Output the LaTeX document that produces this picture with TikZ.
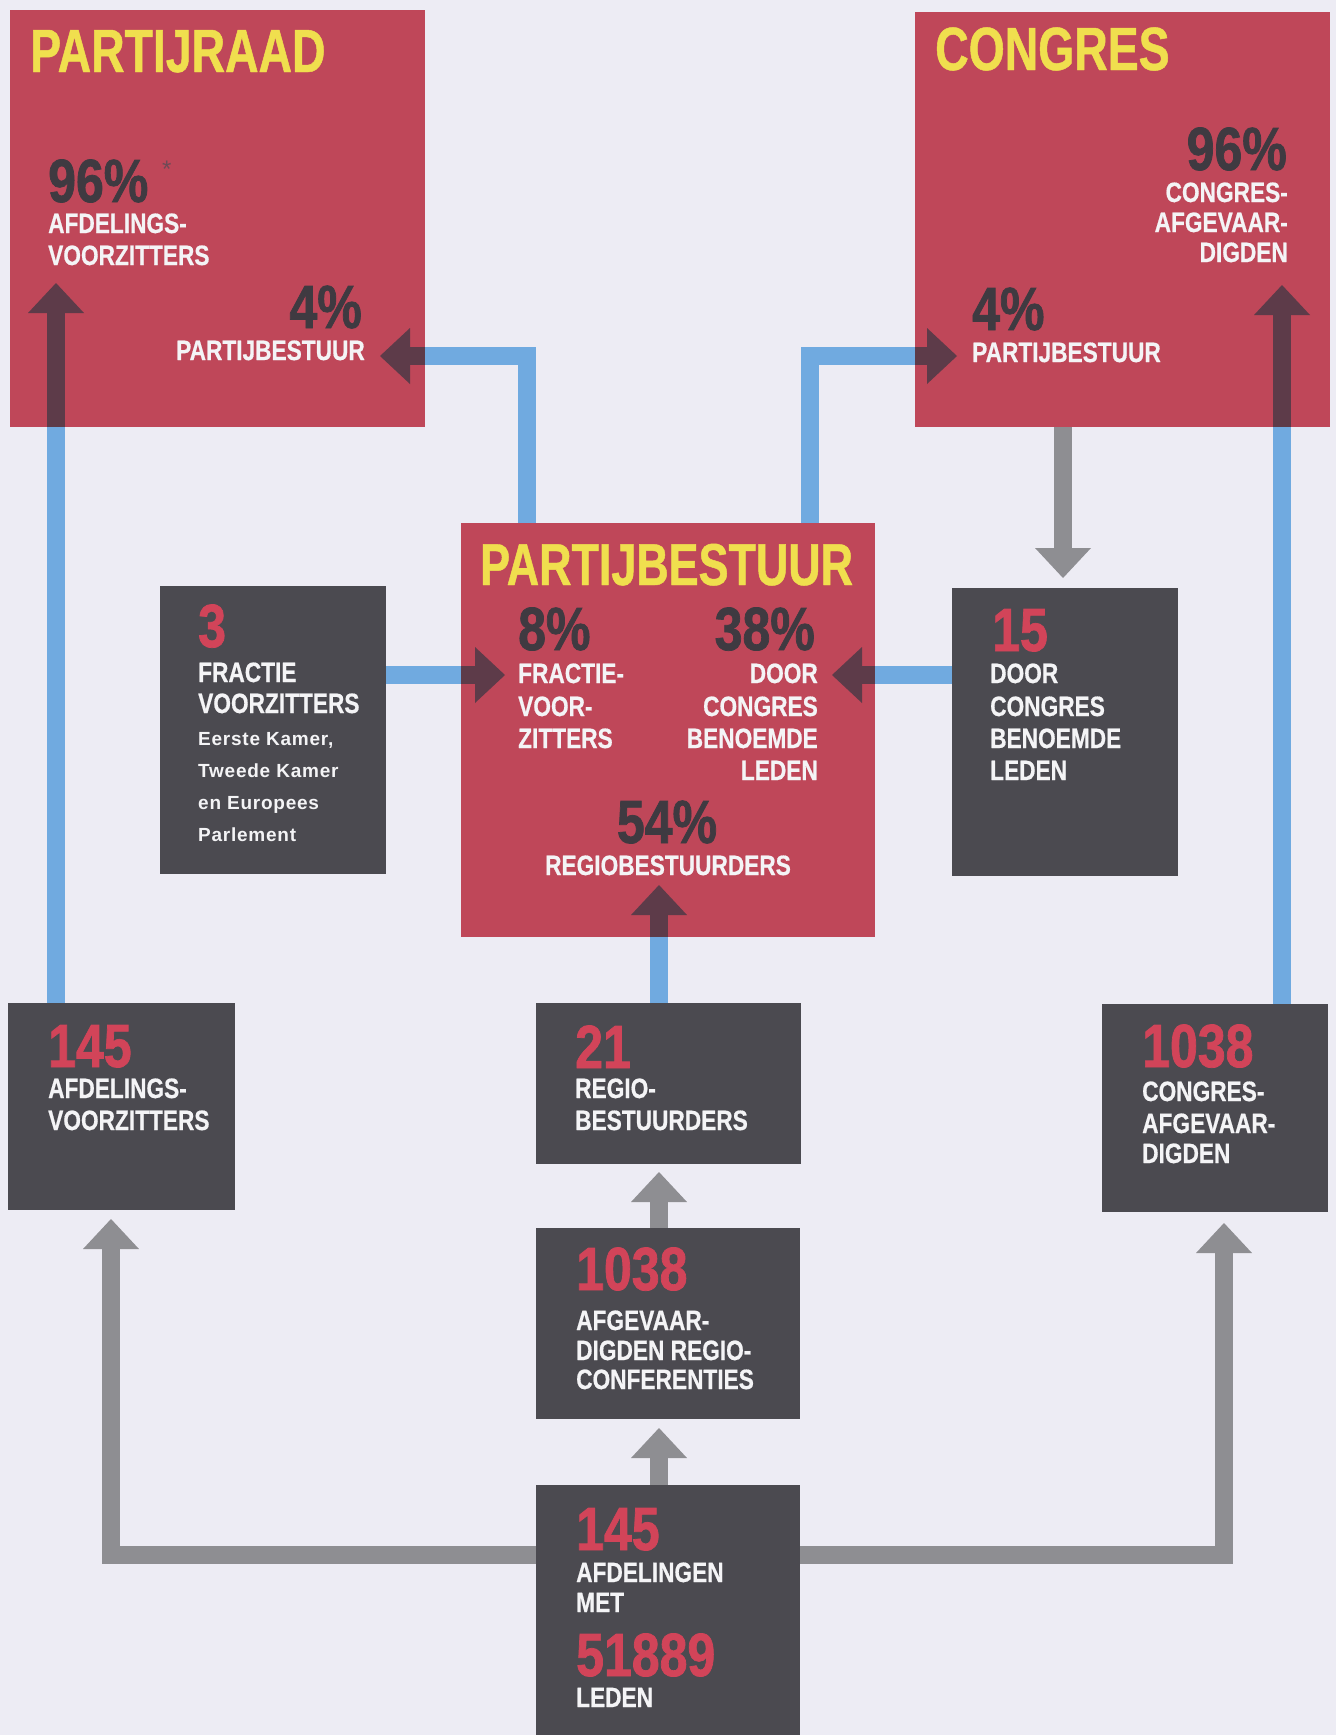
\documentclass[tikz,border=0pt]{standalone}
\usepackage{fontspec}
\usetikzlibrary{arrows.meta}
\newfontfamily\titlef[FakeStretch=0.76,FakeBold=0.8]{Liberation Sans}
\newfontfamily\numf[FakeStretch=0.82,FakeBold=1.2]{Liberation Sans}
\newfontfamily\lblf[FakeStretch=0.81,FakeBold=0.6]{Liberation Sans}
\newfontfamily\plainf[LetterSpace=4]{Liberation Sans}
\definecolor{cBg}{HTML}{EDECF4}
\definecolor{cRed}{HTML}{BF4759}
\definecolor{cDrk}{HTML}{4B4A50}
\definecolor{cYel}{HTML}{F0DF4E}
\definecolor{cPct}{HTML}{3F3A41}
\definecolor{cWht}{HTML}{F4F4F6}
\definecolor{cNum}{HTML}{D24459}
\definecolor{cBlue}{HTML}{70AAE0}
\definecolor{cGrey}{HTML}{8E8E92}
\definecolor{cArr}{HTML}{5D3B49}
\definecolor{cAst}{HTML}{6E4A56}
\begin{document}
\begin{tikzpicture}[x=1pt,y=-1pt,
  box/.style={inner sep=0pt, outer sep=0pt, anchor=north west, draw=none},
  redbox/.style={box, fill=cRed},
  darkbox/.style={box, fill=cDrk},
  conn/.style={line width=18pt, line join=miter, line cap=butt},
  blueline/.style={conn, draw=cBlue},
  tiphead/.style={-{Triangle[length=30pt 0 0, width=56pt 0 0, line width=0pt 0 0]}},
  darkarrow/.style={conn, draw=cArr, tiphead},
  greyarrow/.style={conn, draw=cGrey, tiphead},
  ttl/.style={font=\titlef\bfseries\fontsize{61}{61}\selectfont, text=cYel, inner sep=0pt, text depth=0pt},
  big/.style={font=\numf\bfseries\fontsize{61}{61}\selectfont, inner sep=0pt, text height=44pt, text depth=0pt},
  pct/.style={big, text=cPct},
  num/.style={big, text=cNum},
  lbl/.style={font=\lblf\bfseries\fontsize{28}{28}\selectfont, text=cWht, inner sep=0pt, text height=20pt, text depth=0pt},
  small/.style={font=\plainf\bfseries\fontsize{19}{19}\selectfont, text=cWht, inner sep=0pt, text height=14pt, text depth=4pt},
  aw/.style={anchor=base west},
  ae/.style={anchor=base east},
  ac/.style={anchor=base}
]
\fill[cBg] (0,0) rectangle (1336,1735);
\useasboundingbox (0,0) rectangle (1336,1735);

% boxes
\node[redbox, minimum width=415pt, minimum height=417pt] (pr) at (10,10) {};
\node[redbox, minimum width=415pt, minimum height=415pt] (cg) at (915,12) {};
\node[redbox, minimum width=414pt, minimum height=414pt] (pb) at (461,523) {};
\node[darkbox, minimum width=226pt, minimum height=288pt] (fv) at (160,586) {};
\node[darkbox, minimum width=226pt, minimum height=288pt] (dc) at (952,588) {};
\node[darkbox, minimum width=227pt, minimum height=207pt] (av) at (8,1003) {};
\node[darkbox, minimum width=265pt, minimum height=161pt] (rb) at (536,1003) {};
\node[darkbox, minimum width=226pt, minimum height=208pt] (ca) at (1102,1004) {};
\node[darkbox, minimum width=264pt, minimum height=191pt] (rc) at (536,1228) {};
\node[darkbox, minimum width=264pt, minimum height=250pt] (af) at (536,1485) {};

% helper coordinates
\coordinate (xL) at (56,0);
\coordinate (xA) at (527,0);
\coordinate (xB) at (810,0);
\coordinate (xD) at (1063,0);
\coordinate (xR) at (1282,0);
\coordinate (xC) at (659,0);
\coordinate (yH) at (0,356);
\coordinate (yM) at (0,675);
\coordinate (yB) at (0,1555);
\coordinate (tipL) at (56,283);
\coordinate (tipA) at (380,356);
\coordinate (tipB) at (957,356);
\coordinate (tipD) at (1063,578);
\coordinate (tipR) at (1282,285);
\coordinate (tipF) at (505,675);
\coordinate (tipG) at (832,675);
\coordinate (tipC) at (659,885);
\coordinate (tipRB) at (659,1172);
\coordinate (tipRC) at (659,1428);
\coordinate (cAV) at (111,1555);
\coordinate (tipAV) at (111,1219);
\coordinate (cCA) at (1224,1555);
\coordinate (tipCA) at (1224,1223);

% connectors
\draw[blueline] (av.north -| xL) -- (pr.south -| xL);
\draw[darkarrow] (pr.south -| xL) -- (tipL);

\draw[blueline] (pb.north -| xA) -- (xA |- yH) -- (pr.east |- yH);
\draw[darkarrow] (pr.east |- yH) -- (tipA);

\draw[blueline] (pb.north -| xB) -- (xB |- yH) -- (cg.west |- yH);
\draw[darkarrow] (cg.west |- yH) -- (tipB);

\draw[greyarrow] (cg.south -| xD) -- (tipD);

\draw[blueline] (ca.north -| xR) -- (cg.south -| xR);
\draw[darkarrow] (cg.south -| xR) -- (tipR);

\draw[blueline] (fv.east |- yM) -- (pb.west |- yM);
\draw[darkarrow] (pb.west |- yM) -- (tipF);

\draw[blueline] (dc.west |- yM) -- (pb.east |- yM);
\draw[darkarrow] (pb.east |- yM) -- (tipG);

\draw[blueline] (rb.north -| xC) -- (pb.south -| xC);
\draw[darkarrow] (pb.south -| xC) -- (tipC);

\draw[greyarrow] (rc.north -| xC) -- (tipRB);
\draw[greyarrow] (af.north -| xC) -- (tipRC);
\draw[greyarrow] (af.west |- yB) -- (cAV) -- (tipAV);
\draw[greyarrow] (af.east |- yB) -- (cCA) -- (tipCA);

% PARTIJRAAD texts
\node[ttl, aw] (prT) at (30,72) {PARTIJRAAD};
\node[pct, aw] (prP1) at (48,202) {96\%};
\node[font=\fontspec{Liberation Sans}\fontsize{24}{24}\selectfont, text=cAst, inner sep=0pt, aw] (prAst) at (162,177) {*};
\node[lbl, aw] (prL1) at (48,233) {AFDELINGS-};
\node[lbl, aw] (prL2) at (48,265) {VOORZITTERS};
\node[pct, ae] (prP2) at (362,328) {4\%};
\node[lbl, ae] (prL3) at (365,360) {PARTIJBESTUUR};

% CONGRES texts
\node[ttl, aw] (cgT) at (935,70) {CONGRES};
\node[pct, ae] (cgP1) at (1287,170) {96\%};
\node[lbl, ae] (cgL1) at (1288,202) {CONGRES-};
\node[lbl, ae] (cgL2) at (1288,232) {AFGEVAAR-};
\node[lbl, ae] (cgL3) at (1288,262) {DIGDEN};
\node[pct, aw] (cgP2) at (972,330) {4\%};
\node[lbl, aw] (cgL4) at (972,362) {PARTIJBESTUUR};

% PARTIJBESTUUR texts
\node[font=\titlef\bfseries\fontsize{59}{59}\selectfont, text=cYel, inner sep=0pt, text depth=0pt, aw] (pbT) at (480,585) {PARTIJBESTUUR};
\node[pct, aw] (pbP1) at (518,650) {8\%};
\node[lbl, aw] (pbL1) at (518,683) {FRACTIE-};
\node[lbl, aw] (pbL2) at (518,716) {VOOR-};
\node[lbl, aw] (pbL3) at (518,748) {ZITTERS};
\node[pct, ae] (pbP2) at (815,650) {38\%};
\node[lbl, ae] (pbL4) at (818,683) {DOOR};
\node[lbl, ae] (pbL5) at (818,716) {CONGRES};
\node[lbl, ae] (pbL6) at (818,748) {BENOEMDE};
\node[lbl, ae] (pbL7) at (818,780) {LEDEN};
\node[pct, ac] (pbP3) at (667,843) {54\%};
\node[lbl, ac] (pbL8) at (668,875) {REGIOBESTUURDERS};

% FRACTIE box texts
\node[num, aw] (fvN) at (198,647) {3};
\node[lbl, aw] (fvL1) at (198,682) {FRACTIE};
\node[lbl, aw] (fvL2) at (198,713) {VOORZITTERS};
\node[small, aw] (fvS1) at (198,745) {Eerste Kamer,};
\node[small, aw] (fvS2) at (198,777) {Tweede Kamer};
\node[small, aw] (fvS3) at (198,809) {en Europees};
\node[small, aw] (fvS4) at (198,841) {Parlement};

% 15 box texts
\node[num, aw] (dcN) at (992,651) {15};
\node[lbl, aw] (dcL1) at (990,683) {DOOR};
\node[lbl, aw] (dcL2) at (990,716) {CONGRES};
\node[lbl, aw] (dcL3) at (990,748) {BENOEMDE};
\node[lbl, aw] (dcL4) at (990,780) {LEDEN};

% 145 afdelingsvoorzitters
\node[num, aw] (avN) at (48,1067) {145};
\node[lbl, aw] (avL1) at (48,1098) {AFDELINGS-};
\node[lbl, aw] (avL2) at (48,1130) {VOORZITTERS};

% 21 regiobestuurders
\node[num, aw] (rbN) at (575,1068) {21};
\node[lbl, aw] (rbL1) at (575,1098) {REGIO-};
\node[lbl, aw] (rbL2) at (575,1130) {BESTUURDERS};

% 1038 congresafgevaardigden
\node[num, aw] (caN) at (1142,1067) {1038};
\node[lbl, aw] (caL1) at (1142,1101) {CONGRES-};
\node[lbl, aw] (caL2) at (1142,1133) {AFGEVAAR-};
\node[lbl, aw] (caL3) at (1142,1163) {DIGDEN};

% 1038 afgevaardigden regioconferenties
\node[num, aw] (rcN) at (576,1290) {1038};
\node[lbl, aw] (rcL1) at (576,1330) {AFGEVAAR-};
\node[lbl, aw] (rcL2) at (576,1360) {DIGDEN REGIO-};
\node[lbl, aw] (rcL3) at (576,1389) {CONFERENTIES};

% 145 afdelingen met 51889 leden
\node[num, aw] (afN1) at (576,1550) {145};
\node[lbl, aw] (afL1) at (576,1582) {AFDELINGEN};
\node[lbl, aw] (afL2) at (576,1612) {MET};
\node[num, aw] (afN2) at (576,1676) {51889};
\node[lbl, aw] (afL3) at (576,1707) {LEDEN};
\end{tikzpicture}
\end{document}
